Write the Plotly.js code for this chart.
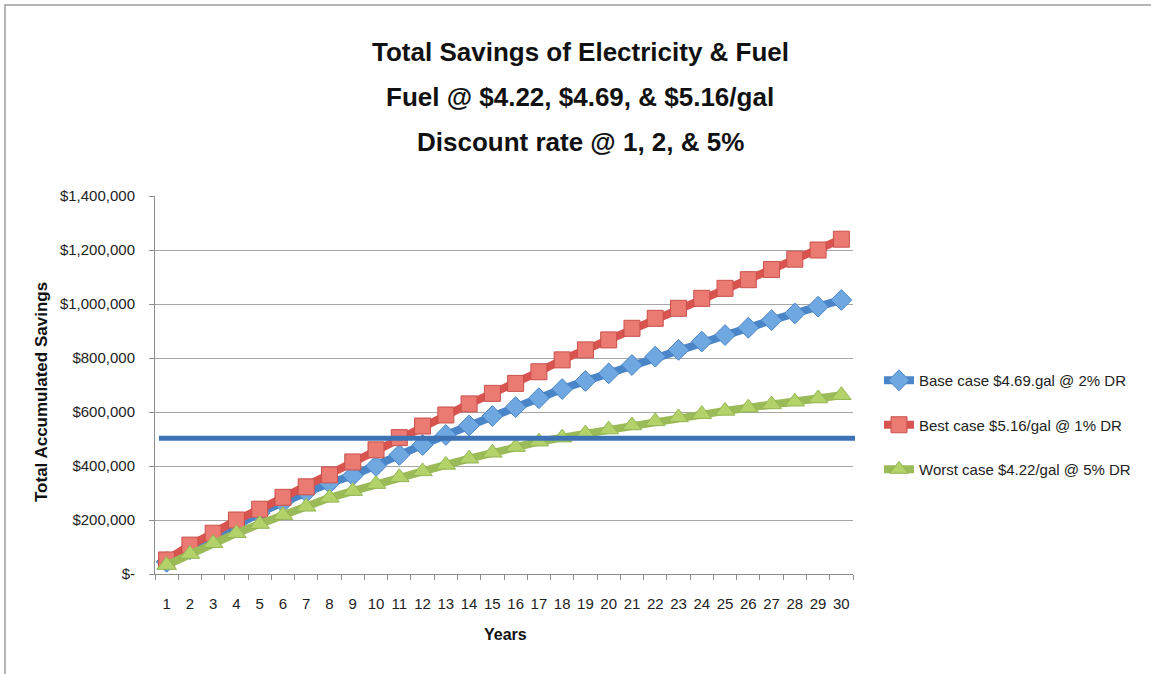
<!DOCTYPE html>
<html>
<head>
<meta charset="utf-8">
<script src="https://cdn.plot.ly/plotly-3.0.1.min.js"></script>
<style>
  html, body { margin: 0; padding: 0; background: #fff; }
  #chart { width: 1151px; height: 674px; position: absolute; left: 0; top: 0; }
  #frame { position: absolute; left: 4px; top: 4px; width: 1160px; height: 700px;
           border-top: 2px solid #b5b5b5; border-left: 2px solid #b5b5b5; pointer-events: none; }
</style>
</head>
<body>
<div id="chart"></div>
<div id="frame"></div>
<script>
const years = ["1","2","3","4","5","6","7","8","9","10","11","12","13","14","15","16","17","18","19","20","21","22","23","24","25","26","27","28","29","30"];

const baseCase = [45000, 92000, 138000, 183000, 226000, 266000, 303000, 337000, 365000, 400000,
                  441000, 478000, 515000, 550000, 585000, 618000, 651000, 685000, 715000, 743000,
                  774000, 805000, 830000, 861000, 885000, 912000, 940000, 965000, 990000, 1015000];
const bestCase = [52000, 107000, 151000, 200000, 240000, 284000, 323000, 367000, 415000, 460000,
                  505000, 548000, 589000, 630000, 669000, 706000, 749000, 793000, 830000, 867000,
                  910000, 947000, 984000, 1021000, 1058000, 1090000, 1128000, 1166000, 1200000, 1240000];
const worstCase = [33000, 74000, 114000, 151000, 185000, 218000, 249000, 282000, 307000, 333000,
                   358000, 380000, 404000, 427000, 449000, 470000, 490000, 505000, 520000, 535000,
                   550000, 565000, 580000, 592000, 604000, 616000, 628000, 638000, 650000, 662000];
const thresholdValue = 503000;

const seriesNames = ["Base case $4.69.gal @ 2% DR", "Best case $5.16/gal @ 1% DR", "Worst case $4.22/gal @ 5% DR"];

const yTickVals = [0, 200000, 400000, 600000, 800000, 1000000, 1200000, 1400000];
const yTickText = ["$-", "$200,000", "$400,000", "$600,000", "$800,000", "$1,000,000", "$1,200,000", "$1,400,000"];

const FONT = "'Liberation Sans', Arial, sans-serif";

const traces = [
  { x: years, y: baseCase, name: seriesNames[0], type: 'scatter', mode: 'lines+markers', legendgroup: 'a',
    line: { color: '#4a85c8', width: 8 },
    marker: { symbol: 'diamond', size: 16, color: '#6fa8e0', line: { color: '#4a85c8', width: 1 } } },
  { x: years, y: bestCase, name: seriesNames[1], type: 'scatter', mode: 'lines+markers', legendgroup: 'b',
    line: { color: '#d9534f', width: 8 },
    marker: { symbol: 'square', size: 16, color: '#ea7a72', line: { color: '#c9504b', width: 1 } } },
  { x: years, y: worstCase, name: seriesNames[2], type: 'scatter', mode: 'lines+markers', legendgroup: 'c',
    line: { color: '#9bbb59', width: 8 },
    marker: { symbol: 'triangle-up', size: 17, color: '#b3d36a', line: { color: '#93b552', width: 1 } } }
];

const W = 1151, H = 674, L = 155, R = 853, T = 196, B = 574;
const px = v => (v - L) / (R - L);
const py = v => (B - v) / (B - T);

const layout = {
  width: W, height: H,
  margin: { l: L, r: W - R, t: T, b: H - B },
  paper_bgcolor: '#ffffff', plot_bgcolor: '#ffffff',
  font: { family: FONT, color: '#222', size: 15 },
  showlegend: true,
  legend: {
    x: px(879), y: py(364), xanchor: 'left', yanchor: 'top',
    traceorder: 'grouped', tracegroupgap: 22,
    font: { family: FONT, size: 15, color: '#222' },
    itemwidth: 30
  },
  xaxis: {
    type: 'category', tickson: 'boundaries', range: [-0.5, 29.5],
    showgrid: false, showline: true, linecolor: '#8c8c8c', linewidth: 1,
    ticks: 'outside', ticklen: 5, tickcolor: '#8c8c8c', tickangle: 0,
    tickfont: { family: FONT, size: 15, color: '#222' },
    ticklabelstandoff: 16, zeroline: false, fixedrange: true
  },
  yaxis: {
    range: [0, 1400000],
    tickvals: yTickVals, ticktext: yTickText,
    showgrid: true, gridcolor: '#a6a6a6', gridwidth: 1,
    showline: true, linecolor: '#8c8c8c', linewidth: 1,
    ticks: 'outside', ticklen: 5, tickcolor: '#8c8c8c',
    tickfont: { family: FONT, size: 15, color: '#222' },
    ticklabelstandoff: 11, zeroline: false, fixedrange: true
  },
  shapes: [
    { type: 'line', xref: 'paper', yref: 'y', x0: px(159), x1: px(855), y0: thresholdValue, y1: thresholdValue,
      line: { color: '#3d72b4', width: 5 } }
  ],
  annotations: [
    { text: '<b>Total Savings of Electricity & Fuel</b>', xref: 'paper', yref: 'paper', x: px(580), y: py(52),
      showarrow: false, xanchor: 'center', yanchor: 'middle', font: { family: FONT, size: 26, color: '#111' } },
    { text: '<b>Fuel @ $4.22, $4.69, & $5.16/gal</b>', xref: 'paper', yref: 'paper', x: px(580), y: py(97),
      showarrow: false, xanchor: 'center', yanchor: 'middle', font: { family: FONT, size: 26, color: '#111' } },
    { text: '<b>Discount rate @ 1, 2, & 5%</b>', xref: 'paper', yref: 'paper', x: px(580), y: py(142),
      showarrow: false, xanchor: 'center', yanchor: 'middle', font: { family: FONT, size: 26, color: '#111' } },
    { text: '<b>Total Accumulated Savings</b>', xref: 'paper', yref: 'paper', x: px(41), y: py(392),
      showarrow: false, xanchor: 'center', yanchor: 'middle', textangle: -90,
      font: { family: FONT, size: 17, color: '#111' } },
    { text: '<b>Years</b>', xref: 'paper', yref: 'paper', x: px(505), y: py(634),
      showarrow: false, xanchor: 'center', yanchor: 'middle', font: { family: FONT, size: 16, color: '#111' } }
  ]
};

Plotly.newPlot('chart', traces, layout, { displayModeBar: false, staticPlot: true });
</script>
</body>
</html>
